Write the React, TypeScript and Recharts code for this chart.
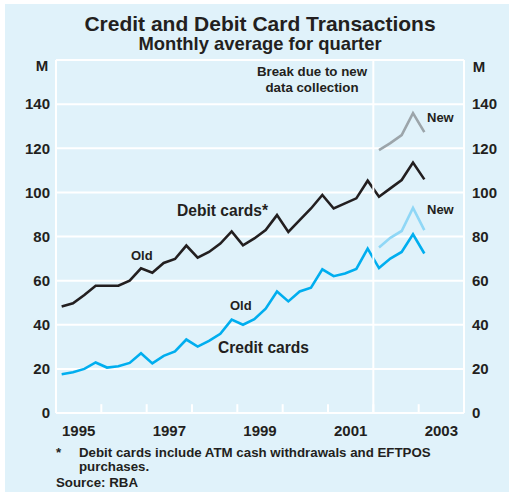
import React from 'react';
import { LineChart, Line, XAxis, YAxis, CartesianGrid, ReferenceLine } from 'recharts';

const quarters = [
  '1995 Q1', '1995 Q2', '1995 Q3', '1995 Q4',
  '1996 Q1', '1996 Q2', '1996 Q3', '1996 Q4',
  '1997 Q1', '1997 Q2', '1997 Q3', '1997 Q4',
  '1998 Q1', '1998 Q2', '1998 Q3', '1998 Q4',
  '1999 Q1', '1999 Q2', '1999 Q3', '1999 Q4',
  '2000 Q1', '2000 Q2', '2000 Q3', '2000 Q4',
  '2001 Q1', '2001 Q2', '2001 Q3', '2001 Q4',
  '2002 Q1', '2002 Q2', '2002 Q3', '2002 Q4',
  '2003 Q1',
];

const debitCards = [
  48.3, 49.7, 53.5, 57.7, 57.7, 57.7, 60.0, 65.6,
  63.6, 68.0, 69.8, 75.9, 70.4, 73.0, 76.8, 82.3,
  76.0, 79.1, 82.9, 89.7, 82.1, 87.4, 92.7, 98.8,
  92.7, 95.0, 97.3, 105.3, 98.0, 101.8, 105.6, 113.5,
  105.9,
];

const creditCards = [
  17.6, 18.5, 20.0, 22.9, 20.6, 21.2, 22.7, 27.1,
  22.5, 25.9, 27.9, 33.3, 30.1, 32.7, 35.9, 42.3,
  40.0, 42.5, 47.3, 55.1, 50.6, 55.1, 56.8, 65.1,
  62.0, 63.2, 65.3, 74.5, 65.7, 70.0, 73.0, 81.0,
  72.3,
];

const newQuarters = ['2002 Q1', '2002 Q2', '2002 Q3', '2002 Q4', '2003 Q1'];
const debitCardsNew = [119.2, 122.3, 126.0, 135.9, 127.3];
const creditCardsNew = [75.0, 79.4, 82.5, 93.0, 82.9];

const yTicks = [0, 20, 40, 60, 80, 100, 120, 140, 160];
const yearLabels = [1995, 1997, 1999, 2001, 2003];
const yearTickMarks = [1996, 1997, 1998, 1999, 2000, 2001, 2002, 2003];
const breakYear = 2002;

const toX = (q: string) => {
  const [y, qq] = q.split(' Q');
  return Number(y) + (Number(qq) - 0.5) / 4;
};

const data = quarters.map((q, i) => {
  const j = newQuarters.indexOf(q);
  return {
    x: toX(q),
    debit: debitCards[i],
    credit: creditCards[i],
    debitNew: j >= 0 ? debitCardsNew[j] : null,
    creditNew: j >= 0 ? creditCardsNew[j] : null,
  };
});

const BG = '#e0f2fa';
const FONT = '"Liberation Sans", Arial, Helvetica, sans-serif';
const TEXT = '#231f20';

const YTick = (props: any) => {
  const { x, y, payload, textAnchor } = props;
  if (payload.value === 160) return null;
  return (
    <text x={x} y={y} dy="0.355em" textAnchor={textAnchor} fontFamily={FONT} fontWeight="bold" fontSize={15} fill={TEXT}>
      {payload.value}
    </text>
  );
};

export default function App() {
  const W = 510;
  const H = 493;
  return (
    <div style={{ position: 'absolute', left: 0, top: 0, width: W, height: H, background: '#ffffff' }}>
      <div style={{ position: 'absolute', left: 5, top: 4, width: 504, height: 488, background: BG }} />
      <div style={{ position: 'absolute', left: 0, top: 0 }}>
        <LineChart width={W} height={H} data={data} margin={{ top: 60, right: 0, bottom: 50, left: 6 }}>
          <CartesianGrid horizontal vertical={false} stroke="#ffffff" strokeWidth={2} yAxisId="left" />
          <XAxis
            dataKey="x"
            type="number"
            domain={[1995, 2004]}
            ticks={yearLabels.map((y) => y + 0.5)}
            tickFormatter={(v: number) => String(Math.floor(v))}
            axisLine={false}
            tickLine={false}
            tickSize={0}
            tickMargin={12}
            height={30}
            tick={{ fontFamily: FONT, fontWeight: 'bold', fontSize: 15, fill: TEXT }}
            allowDataOverflow
          />
          <YAxis
            yAxisId="left"
            orientation="left"
            domain={[0, 160]}
            ticks={yTicks}
            axisLine={false}
            tickLine={false}
            tickSize={0}
            tickMargin={6}
            width={50}
            tick={<YTick />}
            interval={0}
          />
          <YAxis
            yAxisId="right"
            orientation="right"
            domain={[0, 160]}
            ticks={yTicks}
            axisLine={false}
            tickLine={false}
            tickSize={0}
            tickMargin={8}
            width={46}
            tick={<YTick />}
            interval={0}
          />
          <ReferenceLine yAxisId="left" x={1995} stroke="#ffffff" strokeWidth={2} />
          <ReferenceLine yAxisId="left" x={2004} stroke="#ffffff" strokeWidth={2} />
          {yearTickMarks.map((yr) => (
            <ReferenceLine
              key={yr}
              yAxisId="left"
              segment={[{ x: yr, y: 0 }, { x: yr, y: 4 }]}
              stroke="#ffffff"
              strokeWidth={2}
            />
          ))}
          <Line yAxisId="right" type="linear" dataKey="credit" stroke="#00aeef" strokeWidth={2.6} dot={false} isAnimationActive={false} />
          <Line yAxisId="right" type="linear" dataKey="creditNew" stroke="#8fd7f6" strokeWidth={2.6} dot={false} isAnimationActive={false} connectNulls={false} />
          <Line yAxisId="left" type="linear" dataKey="debit" stroke="#231f20" strokeWidth={2.6} dot={false} isAnimationActive={false} />
          <Line yAxisId="left" type="linear" dataKey="debitNew" stroke="#9ca5aa" strokeWidth={2.6} dot={false} isAnimationActive={false} connectNulls={false} />
          <ReferenceLine yAxisId="left" x={breakYear} stroke="#ffffff" strokeWidth={2} />
        </LineChart>
      </div>
      <svg width={W} height={H} style={{ position: 'absolute', left: 0, top: 0, pointerEvents: 'none' }}>
        <g fontFamily={FONT} fontWeight="bold" fill={TEXT}>
          <text x={260} y={31} fontSize={21} textAnchor="middle">Credit and Debit Card Transactions</text>
          <text x={260} y={50} fontSize={18.4} textAnchor="middle">Monthly average for quarter</text>
          <text x={42} y={71} fontSize={15} textAnchor="middle">M</text>
          <text x={479} y={71.5} fontSize={15} textAnchor="middle">M</text>
          <text x={312} y={76} fontSize={13.3} textAnchor="middle">Break due to new</text>
          <text x={312} y={91.5} fontSize={13.3} textAnchor="middle">data collection</text>
          <text x={177} y={216} fontSize={15.6}>Debit cards*</text>
          <text x={218} y={353.3} fontSize={15.6}>Credit cards</text>
          <text x={131} y={260} fontSize={13}>Old</text>
          <text x={230} y={310} fontSize={13}>Old</text>
          <text x={427} y={121.7} fontSize={13}>New</text>
          <text x={427} y={214.3} fontSize={13}>New</text>
          <text x={56} y={457} fontSize={13.3}>*</text>
          <text x={79} y={457} fontSize={13.3}>Debit cards include ATM cash withdrawals and EFTPOS</text>
          <text x={79} y={471} fontSize={13.3}>purchases.</text>
          <text x={56} y={487.3} fontSize={13.3}>Source: RBA</text>
        </g>
      </svg>
    </div>
  );
}
